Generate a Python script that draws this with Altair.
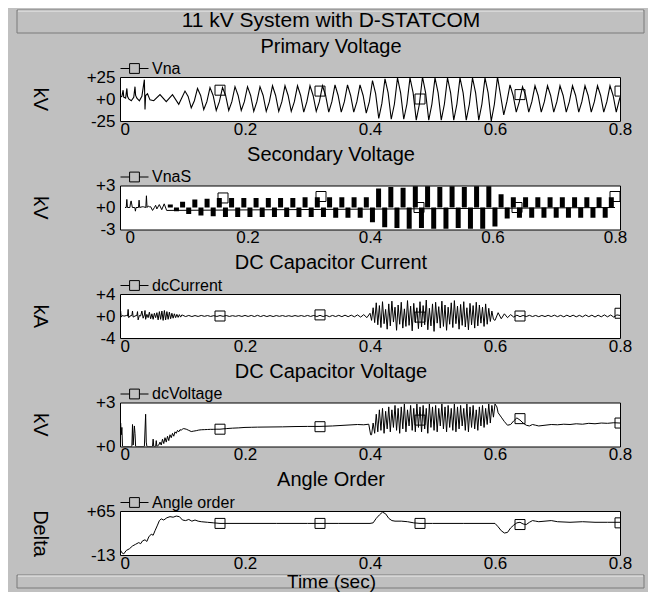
import altair as alt
import pandas as pd

FONT = "Liberation Sans, Arial, sans-serif"
GRAY = "#c0c0c0"

MAIN_TITLE = "11 kV System with D-STATCOM"
PANEL_TITLES = ["Primary Voltage", "Secondary Voltage", "DC Capacitor Current",
                "DC Capacitor Voltage", "Angle Order"]
SERIES = ["Vna", "VnaS", "dcCurrent", "dcVoltage", "Angle order"]
Y_TITLES = ["kV", "kV", "kA", "kV", "Delta"]
Y_DOMAINS = [[-25, 25], [-3, 3], [-4, 4], [0, 3], [-13, 65]]
Y_TICKS = [[-25, 0, 25], [-3, 0, 3], [-4, 0, 4], [0, 3], [-13, 65]]
X_TICKS = [0, 0.2, 0.4, 0.6, 0.8]
X_TITLE = "Time (sec)"

# marker squares (time, value) per panel
MK_T = [0.16, 0.32, 0.48, 0.64, 0.8]
MK_V = [[10, 9, 0, 5, 9],
        [1.3, 1.5, 0.0, 0.0, 1.5],
        [0.0, 0.2, -0.2, 0.0, 0.5],
        [1.18, 1.35, 1.8, 1.9, 1.6],
        [43, 43, 43, 41, 44]]

# ---------------- Primary voltage (kV)
PV_T = [0.000, 0.003, 0.005, 0.006, 0.009, 0.011, 0.012, 0.014, 0.018, 0.022,
        0.024, 0.025, 0.027, 0.031, 0.035, 0.039, 0.040, 0.041, 0.044, 0.048,
        0.054, 0.064, 0.074, 0.084, 0.094, 0.104, 0.114, 0.124, 0.134, 0.144,
        0.154, 0.164, 0.174, 0.184, 0.194, 0.204, 0.214, 0.224, 0.234, 0.244,
        0.254, 0.264, 0.274, 0.284, 0.294, 0.304, 0.314, 0.324, 0.334, 0.344,
        0.354, 0.364, 0.374, 0.384, 0.394, 0.404, 0.414, 0.424, 0.434, 0.444,
        0.454, 0.464, 0.474, 0.484, 0.494, 0.504, 0.514, 0.524, 0.534, 0.544,
        0.554, 0.564, 0.574, 0.584, 0.594, 0.604, 0.614, 0.624, 0.634, 0.644,
        0.654, 0.664, 0.674, 0.684, 0.694, 0.704, 0.714, 0.724, 0.734, 0.744,
        0.754, 0.764, 0.774, 0.784, 0.794, 0.800]
PV_V = [2, 3, 10, 2, 1, 12, 3, 0, -2, 2,
        14, 4, 1, -2, 3, 22, -12, 4, 6, -1,
        -2, 5, -3, 5, -6, 9, -10, 12, -12, 13,
        -13, 13, -13, 14, -13, 14, -14, 14, -14, 15,
        -14, 15, -14, 15, -15, 15, -14, 15, -15, 16,
        -15, 16, -15, 16, -16, 21, -22, 23, -23, 24,
        -23, 24, -24, 25, -24, 24, -24, 24, -24, 24,
        -24, 24, -24, 24, -25, 25, -18, 16, -15, 14,
        -15, 15, -15, 15, -15, 15, -15, 15, -15, 15,
        -15, 15, -15, 15, -15, 2]
# shoulder (kink) on each slope of the distorted wave: time and value
PV_KINK_T = [0.109, 0.119, 0.129, 0.139, 0.149, 0.159, 0.169, 0.179, 0.189, 0.199,
             0.209, 0.219, 0.229, 0.239, 0.249, 0.259, 0.269, 0.279, 0.289, 0.299,
             0.309, 0.319, 0.329, 0.339, 0.349, 0.359, 0.369, 0.379, 0.389, 0.399,
             0.409, 0.419, 0.429, 0.439, 0.449, 0.459, 0.469, 0.479, 0.489, 0.499,
             0.509, 0.519, 0.529, 0.539, 0.549, 0.559, 0.569, 0.579, 0.589, 0.599,
             0.609, 0.619, 0.629, 0.639, 0.649, 0.659, 0.669, 0.679, 0.689, 0.699,
             0.709, 0.719, 0.729, 0.739, 0.749, 0.759, 0.769, 0.779, 0.789]
PV_KINK_V = [3, -2, 4, -3, 4, -3, 4, -3, 4, -3,
             4, -3, 4, -3, 4, -3, 4, -3, 4, -3,
             4, -3, 4, -3, 4, -3, 4, -3, 4, -3,
             6, -5, 7, -6, 7, -6, 7, -6, 7, -6,
             7, -6, 7, -6, 7, -6, 7, -6, 7, -6,
             4, -3, 4, -3, 4, -3, 4, -3, 4, -3,
             4, -3, 4, -3, 4, -3, 4, -3, 4]

# ---------------- Secondary voltage (kV)
VS_LINE_T = [0.000, 0.002, 0.003, 0.004, 0.008, 0.009, 0.010, 0.012, 0.016, 0.017,
             0.018, 0.022, 0.023, 0.024, 0.028, 0.030, 0.034, 0.035, 0.036, 0.038,
             0.040, 0.042, 0.045, 0.048, 0.050, 0.052, 0.056, 0.060, 0.064, 0.068,
             0.800]
VS_LINE_V = [0, 0, 1.1, 0, 0, 0.6, 0.9, 0, 0, -0.5,
             0, 0, 1.0, 0, 0.1, 0.1, 0, 1.6, 0, 0.2,
             0.1, 0.1, -0.4, 0.0, 0.3, -0.2, 0.4, -0.3, 0.5, -0.4,
             0]
VS_BLOCK_START, VS_BLOCK_STEP = 0.074, 0.01
VS_BLOCK_V = [0.4, -0.5, 0.8, -0.9, 1.1, -1.1, 1.2, -1.2, 1.3, -1.3,
              1.3, -1.3, 1.3, -1.3, 1.3, -1.3, 1.3, -1.3, 1.3, -1.3,
              1.3, -1.3, 1.4, -1.3, 1.4, -1.3, 1.4, -1.4, 1.4, -1.4,
              1.4, -1.4, 1.4, -2.0, 2.6, -2.7, 2.8, -2.8, 2.7, -2.9,
              2.9, -2.8, 2.9, -2.9, 2.8, -2.9, 2.9, -2.8, 2.8, -2.9,
              2.9, -2.9, 2.9, -2.6, 1.8, -1.5, 1.4, -1.4, 1.4, -1.4,
              1.4, -1.4, 1.4, -1.4, 1.4, -1.4, 1.4, -1.4, 1.4, -1.4,
              1.4, -1.4, 1.4]

# ---------------- DC capacitor current (kA)
DCI_T = [0.000, 0.001, 0.002, 0.004, 0.006, 0.008, 0.010, 0.012, 0.013, 0.014,
         0.016, 0.019, 0.020, 0.021, 0.024, 0.027, 0.028, 0.029, 0.031, 0.033,
         0.035, 0.037, 0.039, 0.040, 0.041, 0.043, 0.045, 0.047, 0.049, 0.051,
         0.053, 0.055, 0.057, 0.059]
DCI_V = [0, 0.9, -0.2, 0.1, 0, 0, 0.1, 0, 1.2, -0.3,
         0, 0.1, 0.9, -0.2, 0, 0.1, 0.8, -0.7, 0.1, 0,
         0.9, -0.4, 0.2, 1.0, -0.6, 0.3, -0.3, 0.7, -0.5, 0.4,
         -0.6, 0.5, -0.3, 0.6]
DCI_A_START, DCI_A_STEP = 0.061, 0.002
DCI_A_V = [-0.7, 0.8, -0.6, 0.9, -0.8, 1.0, -0.7, 0.8, -0.6, 0.7,
           -0.5, 0.5, -0.4, 0.4, -0.3, 0.3, -0.25, 0.25, -0.2, 0.2]
DCI_B_START, DCI_B_STEP = 0.10, 0.005
DCI_B_V = [0.15, -0.1, 0.1, -0.1, 0.08, -0.08, 0.1, -0.06, 0.08, -0.08,
           0.06, -0.08, 0.08, -0.06, 0.08, -0.08, 0.06, -0.06, 0.08, -0.08,
           0.1, -0.08, 0.1, -0.1, 0.12, -0.1, 0.1, -0.1, 0.08, -0.1,
           0.08, -0.06, 0.08, -0.08, 0.06, -0.08, 0.08, -0.06, 0.08, -0.08,
           0.1, -0.08, 0.1, -0.1, 0.12, -0.1, 0.1, -0.12, 0.1, -0.1,
           0.12, -0.12, 0.15, -0.12, 0.15, -0.15, 0.2, -0.2, 0.25, -0.3]
DCI_C_START, DCI_C_STEP = 0.40, 0.0025
DCI_C_V = [0.5, -0.8, 1.5, -1.2, 2.4, -1.6, 1.9, -2.1, 2.6, -1.4,
           1.2, -2.4, 2.2, -1.8, 2.7, -1.1, 1.6, -2.6, 2.0, -1.5,
           2.5, -2.2, 1.3, -1.9, 2.8, -1.7, 1.8, -2.7, 2.3, -1.2,
           1.5, -2.3, 2.6, -2.0, 1.9, -1.6, 2.9, -2.5, 1.4, -1.8,
           2.2, -2.8, 2.5, -1.3, 1.7, -2.2, 2.7, -1.9, 2.0, -2.6,
           1.6, -1.5, 2.4, -2.1, 2.8, -1.4, 1.8, -2.4, 2.1, -1.7,
           2.6, -2.0, 1.5, -2.5, 2.3, -1.6, 1.9, -2.2, 2.5, -1.8,
           2.0, -1.3, 1.6, -1.9, 2.2, -1.5, 1.4, -1.0, 0.9, -0.6]
DCI_D_START, DCI_D_STEP = 0.60, 0.005
DCI_D_V = [-0.8, 0.6, -0.5, 0.4, -0.3, 0.25, -0.2, 0.15, -0.12, 0.1,
           -0.1, 0.12, -0.1, 0.1, -0.12, 0.1, -0.1, 0.12, -0.1, 0.15,
           -0.12, 0.12, -0.15, 0.15, -0.12, 0.15, -0.15, 0.12, -0.15, 0.18,
           -0.12, 0.15, -0.18, 0.15, -0.15, 0.2, -0.15, 0.18, -0.2, 0.2, 0.1]

# ---------------- DC capacitor voltage (kV)
DCV_T = [0.000, 0.001, 0.002, 0.003, 0.004, 0.006, 0.010, 0.015, 0.019, 0.020,
         0.021, 0.023, 0.024, 0.025, 0.028, 0.039, 0.041, 0.042, 0.043, 0.046,
         0.050, 0.052, 0.053, 0.054, 0.057, 0.058, 0.059, 0.062, 0.064, 0.066,
         0.068]
DCV_V = [0, 1.6, 0.8, 1.3, 0, 0, 0, 0, 0, 1.5,
         0.1, 1.4, 0.9, 0, 0, 0, 2.2, 0.3, 0, 0,
         0, 0, 0.5, 0, 0, 0.4, 0, 0.1, 0.3, 0.1,
         0.5]
DCV_A_START, DCV_A_STEP = 0.070, 0.002
DCV_A_V = [0.2, 0.6, 0.3, 0.7, 0.4, 0.8, 0.6, 0.9, 0.7, 1.0,
           0.9, 1.1, 1.0, 1.15, 1.1, 1.2]
DCV_B_T = [0.102, 0.106, 0.110, 0.114, 0.118, 0.122, 0.126, 0.130, 0.135, 0.140,
           0.145, 0.150, 0.155, 0.160, 0.170, 0.180, 0.190, 0.200, 0.210, 0.220,
           0.240, 0.260, 0.280, 0.300, 0.320, 0.340, 0.360, 0.380, 0.390, 0.398,
           0.401]
DCV_B_V = [1.22, 1.18, 1.1, 1.02, 1.05, 1.08, 1.12, 1.14, 1.15, 1.16,
           1.17, 1.17, 1.18, 1.18, 1.22, 1.25, 1.27, 1.3, 1.31, 1.32,
           1.33, 1.34, 1.36, 1.37, 1.37, 1.4, 1.45, 1.5, 1.48, 1.52,
           0.8]
DCV_C_START, DCV_C_STEP = 0.4025, 0.0025
DCV_C_V = [0.8, 1.6, 0.9, 2.2, 1.0, 2.5, 1.1, 2.6, 0.9, 2.4,
           1.2, 2.7, 1.0, 2.5, 1.3, 2.8, 1.1, 2.6, 0.9, 2.7,
           1.2, 2.9, 1.0, 2.5, 1.4, 2.8, 1.1, 2.6, 1.0, 2.9,
           1.3, 2.7, 1.0, 2.8, 1.2, 2.6, 0.9, 2.9, 1.3, 2.7,
           1.1, 2.8, 1.0, 2.6, 1.4, 2.9, 1.2, 2.7, 1.0, 2.8,
           1.3, 2.6, 1.1, 2.9, 1.0, 2.7, 1.2, 2.8, 1.4, 2.6,
           1.1, 2.9, 1.0, 2.7, 1.3, 2.8, 1.2, 2.5, 1.1, 2.7,
           1.4, 2.8, 1.3, 2.6, 1.5, 2.9, 1.6, 2.8, 2.0, 2.9]
DCV_D_T = [0.603, 0.605, 0.610, 0.615, 0.620, 0.625, 0.630, 0.635, 0.640, 0.645,
           0.650, 0.655, 0.660, 0.665, 0.670, 0.680, 0.690, 0.700, 0.710, 0.720,
           0.730, 0.740, 0.750, 0.760, 0.770, 0.780, 0.790, 0.800]
DCV_D_V = [2.7, 2.3, 2.0, 1.7, 1.45, 1.5, 1.75, 1.95, 1.8, 1.6,
           1.45, 1.4, 1.5, 1.45, 1.4, 1.45, 1.5, 1.48, 1.52, 1.5,
           1.55, 1.52, 1.58, 1.55, 1.6, 1.58, 1.62, 1.6]

# ---------------- Angle order (deg)
AO_T = [0.000, 0.003, 0.006, 0.010, 0.015, 0.020, 0.025, 0.030, 0.033, 0.036,
        0.040, 0.043, 0.046, 0.050, 0.053, 0.056, 0.060, 0.063, 0.066, 0.070,
        0.075, 0.080, 0.085, 0.090, 0.095, 0.100, 0.105, 0.110, 0.115, 0.120,
        0.125, 0.130, 0.140, 0.150, 0.160, 0.200, 0.250, 0.300, 0.350, 0.400,
        0.405, 0.410, 0.415, 0.420, 0.425, 0.430, 0.435, 0.440, 0.450, 0.460,
        0.470, 0.480, 0.500, 0.550, 0.600, 0.605, 0.610, 0.615, 0.620, 0.625,
        0.630, 0.635, 0.640, 0.645, 0.650, 0.655, 0.660, 0.665, 0.670, 0.680,
        0.690, 0.700, 0.720, 0.740, 0.760, 0.780, 0.800]
AO_V = [-3, -9, -11, -5, -2, 3, 6, 9, 7, 12,
        14, 11, 19, 24, 22, 30, 40, 48, 51, 49,
        53, 55, 54, 56, 55, 49, 48, 50, 47, 49,
        47, 46, 45, 44, 43, 43, 43, 43, 43, 43,
        44, 52, 58, 63, 60, 52, 48, 47, 47, 46,
        44, 43, 43, 43, 43, 37, 30, 26, 27, 35,
        40, 44, 45, 42, 41, 45, 48, 47, 46, 47,
        48, 46, 45, 46, 45, 45, 45]


def grid(start, step, values):
    return [round(start + i * step, 6) for i in range(len(values))]


LINES = [
    (PV_T + PV_KINK_T, PV_V + PV_KINK_V),
    (VS_LINE_T, VS_LINE_V),
    (DCI_T + grid(DCI_A_START, DCI_A_STEP, DCI_A_V) + grid(DCI_B_START, DCI_B_STEP, DCI_B_V)
     + grid(DCI_C_START, DCI_C_STEP, DCI_C_V) + grid(DCI_D_START, DCI_D_STEP, DCI_D_V),
     DCI_V + DCI_A_V + DCI_B_V + DCI_C_V + DCI_D_V),
    (DCV_T + grid(DCV_A_START, DCV_A_STEP, DCV_A_V) + DCV_B_T
     + grid(DCV_C_START, DCV_C_STEP, DCV_C_V) + DCV_D_T,
     DCV_V + DCV_A_V + DCV_B_V + DCV_C_V + DCV_D_V),
    (AO_T, AO_V),
]

LEGEND_SYMBOL = "M-1,0H-0.35M0.35,0H1M-0.35,-0.35H0.35V0.35H-0.35Z"
W, H = 500, 44
one = pd.DataFrame({"k": [0]})


def panel(i):
    t, v = LINES[i]
    name = SERIES[i]
    line_df = pd.DataFrame({"t": t, "v": v, "series": name}).sort_values("t")
    mk_df = pd.DataFrame({"t": MK_T, "v": MK_V[i]})
    last = i == 4
    lo, hi = Y_DOMAINS[i]
    xaxis = alt.Axis(values=X_TICKS, title=X_TITLE if last else None, zindex=1,
                     labelExpr="'' + datum.value",
                     labelAlign=alt.condition("datum.value == 0", alt.value("left"), alt.value("center")),
                     titleX=211, titleY=26, titleBaseline="middle", titleAlign="center",
                     titleFontSize=19)
    x = alt.X("t:Q", scale=alt.Scale(domain=[0, 0.8], nice=False, zero=False), axis=xaxis)
    y = alt.Y("v:Q", scale=alt.Scale(domain=[lo, hi], nice=False, zero=False),
              axis=alt.Axis(values=Y_TICKS[i], title=Y_TITLES[i], titleAngle=90,
                            titleX=-81, titleY=H / 2, titleAlign="center",
                            titleBaseline="middle",
                            labelExpr="datum.value > 0 ? '+' + datum.value : "
                                      "(datum.value == 0 ? '+0' : '' + datum.value)"))
    layers = []
    if i == 0:
        layers.append(alt.Chart(one).mark_rect(fill=GRAY, stroke="#7a7a7a", strokeWidth=1, clip=False)
                      .encode(x=alt.value(-103), x2=alt.value(524), y=alt.value(-67), y2=alt.value(-44)))
        layers.append(alt.Chart(one).mark_rule(color="#eeeeee", clip=False)
                      .encode(x=alt.value(-102), x2=alt.value(523), y=alt.value(-66)))
    if last:
        layers.append(alt.Chart(one).mark_rect(fill=GRAY, stroke="#7a7a7a", strokeWidth=1, clip=False)
                      .encode(x=alt.value(-103), x2=alt.value(524), y=alt.value(64), y2=alt.value(77)))
        layers.append(alt.Chart(one).mark_rule(color="#eeeeee", clip=False)
                      .encode(x=alt.value(-102), x2=alt.value(523), y=alt.value(65)))
    if i == 1:
        blk = pd.DataFrame({"t": grid(VS_BLOCK_START, VS_BLOCK_STEP, VS_BLOCK_V), "v": VS_BLOCK_V})
        layers.append(alt.Chart(blk).mark_bar(size=5, color="black", orient="vertical", clip=True)
                      .encode(x=x, y=y, y2=alt.datum(0)))
    layers.append(alt.Chart(line_df).mark_line(strokeWidth=1.1 if i == 0 else 1, clip=True).encode(
        x=x, y=y,
        color=alt.Color("series:N", scale=alt.Scale(domain=[name], range=["black"]),
                        legend=alt.Legend(orient="none", legendX=0, legendY=-23, title=None,
                                          symbolType=LEGEND_SYMBOL, symbolSize=784,
                                          symbolStrokeWidth=1, symbolStrokeColor="black",
                                          symbolFillColor="transparent",
                                          labelFont=FONT, labelFontSize=16, labelColor="black",
                                          labelOffset=3, padding=0, offset=0))))
    layers.append(alt.Chart(mk_df).mark_point(shape="square", filled=False, size=100,
                                                color="black", strokeWidth=1, opacity=1, clip=True)
                  .encode(x=x, y=y))
    if i == 0:
        title = alt.TitleParams(text=MAIN_TITLE, subtitle=PANEL_TITLES[0], fontSize=21,
                                subtitleFontSize=20, subtitleFont=FONT, subtitleColor="black",
                                anchor="middle", frame="group", dx=-39, offset=-47,
                                subtitlePadding=6)
    else:
        title = alt.TitleParams(text=PANEL_TITLES[i], fontSize=20, anchor="middle",
                                frame="group", dx=-39, offset=-2)
    return alt.layer(*layers).properties(width=W, height=H, title=title)


chart = (
    alt.vconcat(*[panel(i) for i in range(5)], spacing=64.5, bounds="flush")
    .resolve_scale(color="independent", y="independent")
    .resolve_legend(color="independent")
    .properties(background=GRAY, padding={"left": 8, "top": 1, "right": 3, "bottom": 0})
    .configure_view(stroke="black", strokeWidth=1, fill="white")
    .configure_axis(domain=False, ticks=False, grid=False, labelFont=FONT, labelFontSize=17,
                    labelColor="black", titleFont=FONT, titleFontSize=20, titleColor="black",
                    titleFontWeight="normal")
    .configure_axisY(labelPadding=5)
    .configure_axisX(labelPadding=0)
    .configure_title(font=FONT, color="black", fontWeight="normal")
)

chart.save("out.html", embed_options={"renderer": "svg", "actions": False})
